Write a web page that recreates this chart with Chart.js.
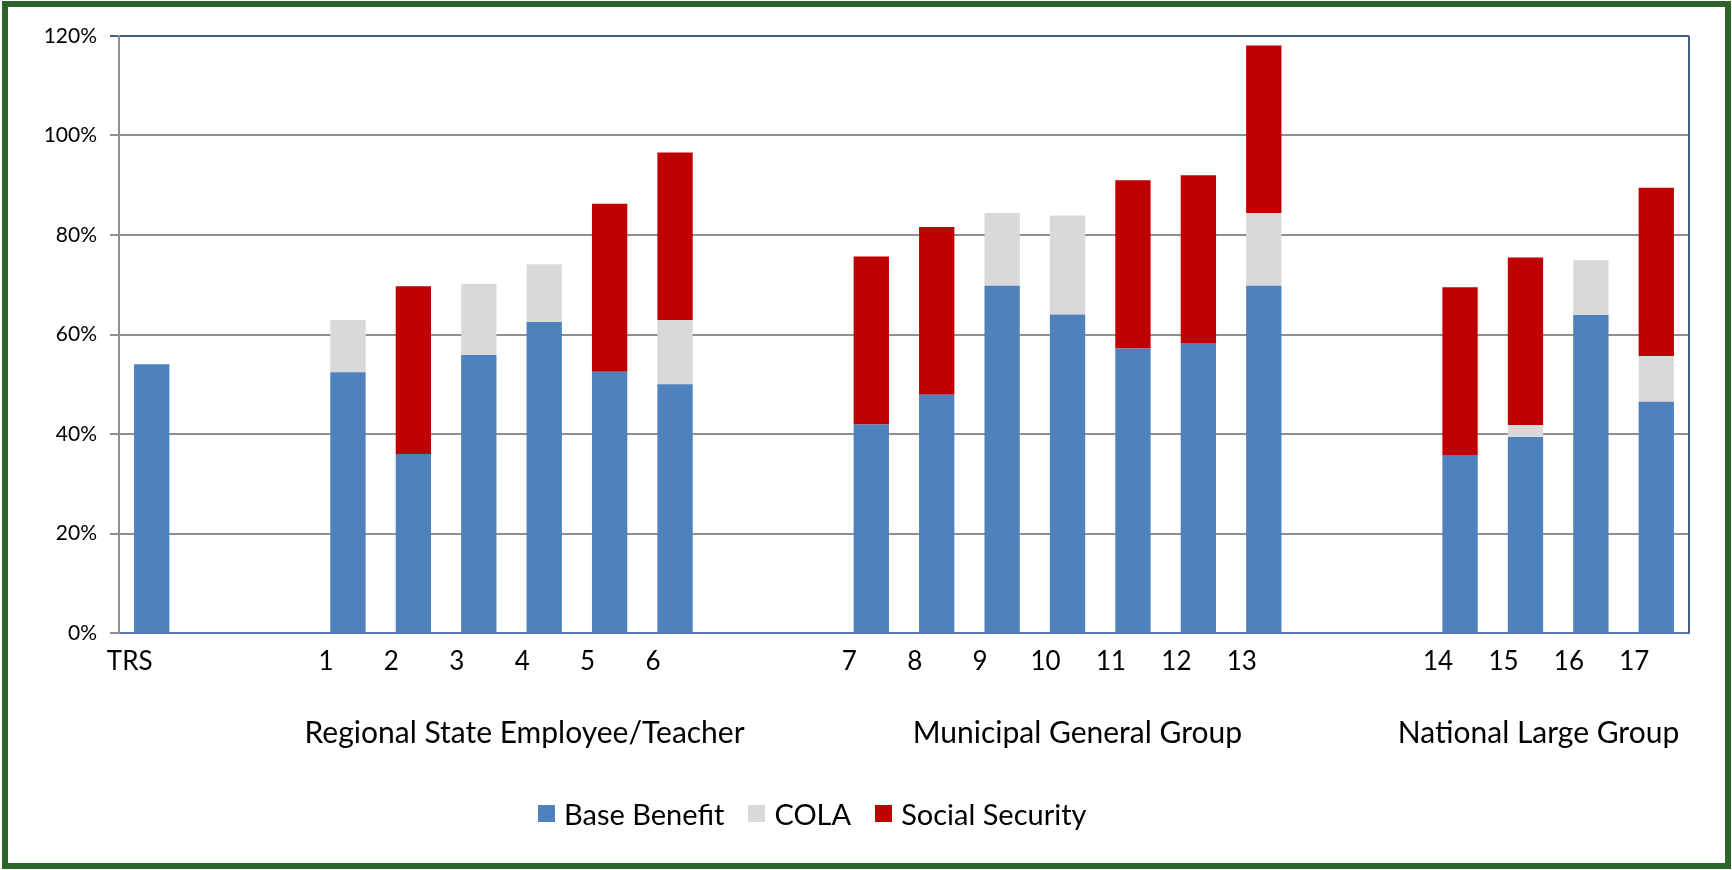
<!DOCTYPE html>
<html>
<head>
<meta charset="utf-8">
<title>Replacement income</title>
<script src="https://cdn.jsdelivr.net/npm/chart.js@4.4.0/dist/chart.umd.min.js"></script>
<style>
  body { margin: 0; background: #fff; }
  #wrap { position: relative; width: 1732px; height: 870px; overflow: hidden; }
  #frame { position: absolute; left: 2px; top: 1px; right: 1px; bottom: 1px; border: 6px solid #2e6329; pointer-events: none; }
  #legend { position: absolute; top: 796px; left: 538px; display: flex; align-items: center; font-family: Lato, sans-serif; font-size: 29px; color: #000; }
  #legend .item { display: flex; align-items: center; margin-right: 24px; }
  #legend .box { width: 17px; height: 17px; margin-right: 9px; }
</style>
</head>
<body>
<div id="wrap">
  <canvas id="chart" width="1732" height="870"></canvas>
  <div id="legend"></div>
  <div id="frame"></div>
</div>
<script>
// plan slots, with empty slots separating the groups
const categories = ['TRS', '', '', '1', '2', '3', '4', '5', '6', '', '', '7', '8', '9', '10', '11', '12', '13', '', '', '14', '15', '16', '17'];

const baseBenefit    = [54.0, null, null, 52.4, 36.0, 55.9, 62.5, 52.5, 50.0, null, null, 41.9, 47.9, 69.8, 64.0, 57.2, 58.3, 69.8, null, null, 35.8, 39.4, 63.9, 46.5];
const cola           = [0, null, null, 10.5, 0, 14.3, 11.6, 0, 12.9, null, null, 0, 0, 14.6, 19.9, 0, 0, 14.6, null, null, 0, 2.4, 11.0, 9.2];
const socialSecurity = [0, null, null, 0, 33.7, 0, 0, 33.8, 33.7, null, null, 33.8, 33.7, 0, 0, 33.8, 33.7, 33.7, null, null, 33.7, 33.7, 0, 33.8];

const yTicks = [0, 20, 40, 60, 80, 100, 120];

const groupNames = ['Regional State Employee/Teacher', 'Municipal General Group', 'National Large Group'];
// where each group name sits, as a (fractional) slot index on the x scale
const groupAnchors = [5.7, 14.15, 21.2];

const BLUE = '#4f81bd';
const GREY = '#d9d9d9';
const RED = '#c00000';
const GRID = '#8f8f8f';
const FRAME_BLUE = '#41608c';

Chart.defaults.font.family = 'Lato, sans-serif';
Chart.defaults.color = '#000';

// group names under the plan numbers, plus the right edge of the plot box
const groupLabelsPlugin = {
    id: 'groupLabels',
    beforeDatasetsDraw(chart) {
        const { ctx, chartArea } = chart;
        ctx.save();
        ctx.strokeStyle = FRAME_BLUE;
        ctx.lineWidth = 2;
        ctx.beginPath();
        ctx.moveTo(chartArea.right, chartArea.top);
        ctx.lineTo(chartArea.right, chartArea.bottom);
        ctx.stroke();
        ctx.restore();
    },
    afterDraw(chart) {
        const { ctx } = chart;
        const xScale = chart.scales.x;
        ctx.save();
        ctx.font = '30px Lato, sans-serif';
        ctx.fillStyle = '#000';
        ctx.textAlign = 'center';
        ctx.textBaseline = 'middle';
        groupNames.forEach((name, i) => {
            ctx.fillText(name, xScale.getPixelForValue(groupAnchors[i]), 733);
        });
        ctx.restore();
    }
};

const ctx = document.getElementById('chart').getContext('2d');
const chart = new Chart(ctx, {
    type: 'bar',
    data: {
        labels: categories,
        datasets: [
            { label: 'Base Benefit', data: baseBenefit, backgroundColor: BLUE },
            { label: 'COLA', data: cola, backgroundColor: GREY },
            { label: 'Social Security', data: socialSecurity, backgroundColor: RED },
        ],
    },
    options: {
        responsive: false,
        animation: false,
        layout: { padding: { left: 0, right: 43, top: 36, bottom: 0 } },
        datasets: {
            bar: { categoryPercentage: 1, barPercentage: 0.54 },
        },
        scales: {
            x: {
                stacked: true,
                grid: { display: false, drawTicks: false },
                border: { display: true, color: '#5b7cae', width: 2 },
                ticks: {
                    font: { size: 26 },
                    padding: 13,
                    labelOffset: -22,
                    autoSkip: false,
                    maxRotation: 0,
                },
                afterFit(scale) { scale.height = 237; },
            },
            y: {
                stacked: true,
                min: 0,
                max: 120,
                afterBuildTicks(scale) { scale.ticks = yTicks.map(v => ({ value: v })); },
                grid: {
                    color: (c) => (c.tick && c.tick.value === 120 ? FRAME_BLUE : GRID),
                    lineWidth: 2,
                    tickLength: 9,
                },
                border: { color: GRID, width: 2 },
                ticks: {
                    font: { size: 21 },
                    padding: 13,
                    callback: (v) => v + '%',
                },
                afterFit(scale) { scale.width = 119; },
            },
        },
        plugins: {
            legend: { display: false },
            tooltip: { enabled: false },
        },
    },
    plugins: [groupLabelsPlugin],
});

// legend row built from the datasets
const legendEl = document.getElementById('legend');
chart.data.datasets.forEach((ds) => {
    const item = document.createElement('div');
    item.className = 'item';
    const box = document.createElement('span');
    box.className = 'box';
    box.style.background = ds.backgroundColor;
    const text = document.createElement('span');
    text.textContent = ds.label;
    item.appendChild(box);
    item.appendChild(text);
    legendEl.appendChild(item);
});
</script>
</body>
</html>
